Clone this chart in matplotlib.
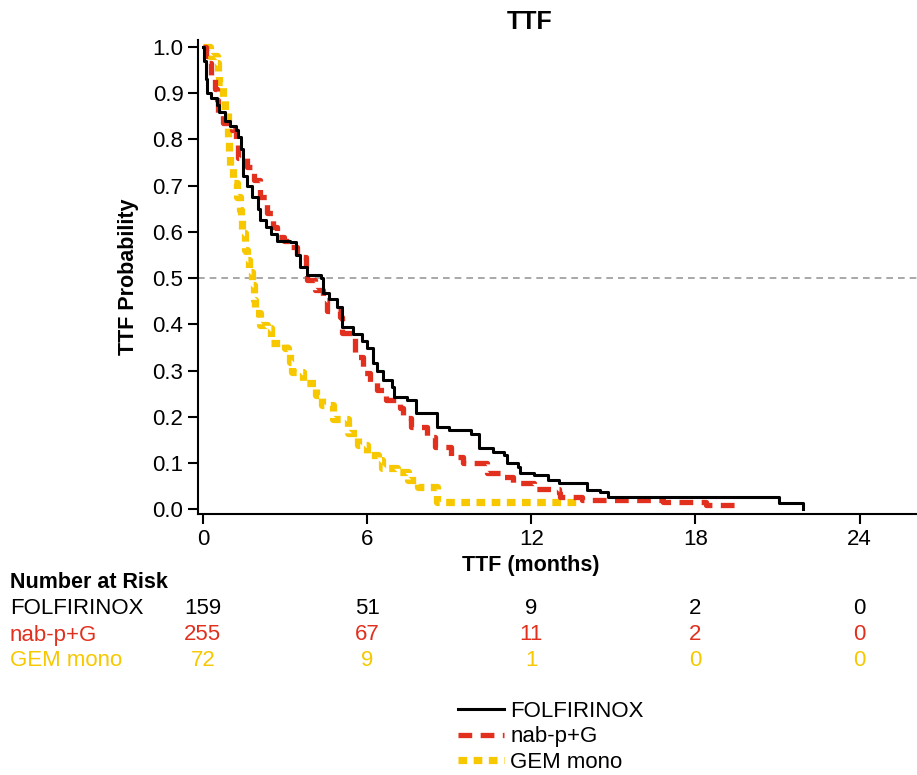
import matplotlib
matplotlib.use("Agg")
import matplotlib.pyplot as plt
import matplotlib.transforms as mtransforms

plt.rcParams['font.family'] = ['Liberation Sans', 'DejaVu Sans']

# Data
folfirinox_t = [0, 0.05, 0.1, 0.15, 0.3, 0.5, 0.6, 0.8, 1.0, 1.2, 1.3, 1.38, 1.45, 1.6, 1.8,
                2.0, 2.1, 2.3, 2.5, 2.7, 3.2, 3.4, 3.55, 3.8, 4.3, 4.4, 4.6, 4.9, 5.1, 5.5,
                5.8, 6.0, 6.2, 6.35, 6.6, 6.9, 7.0, 7.45, 7.8, 8.55, 9.0, 9.8, 10.1, 10.6, 11.0,
                11.1, 11.5, 11.6, 12.1, 12.6, 13.0, 14.05, 14.5, 14.8, 21.05, 21.95]
folfirinox_s = [1.0, 0.97, 0.93, 0.90, 0.89, 0.875, 0.86, 0.84, 0.83, 0.82, 0.805, 0.78, 0.72, 0.70, 0.675,
                0.65, 0.625, 0.61, 0.595, 0.58, 0.578, 0.55, 0.525, 0.506, 0.50, 0.467, 0.455, 0.437, 0.394, 0.38,
                0.365, 0.35, 0.316, 0.30, 0.28, 0.264, 0.242, 0.236, 0.208, 0.178, 0.171, 0.164, 0.132, 0.123, 0.117,
                0.10, 0.091, 0.078, 0.074, 0.063, 0.056, 0.041, 0.037, 0.026, 0.013, 0.0]

nabpg_t = [0, 0.1, 0.2, 0.3, 0.45, 0.5, 0.55, 0.75, 1.05, 1.2, 1.3, 1.6, 1.85, 2.1, 2.35,
           2.55, 2.7, 2.95, 3.2, 3.45, 3.75, 3.8, 4.1, 4.4, 4.55, 5.0, 5.1, 5.5, 5.55, 5.85,
           6.1, 6.35, 6.7, 7.2, 7.3, 7.6, 8.2, 8.5, 9.05, 9.5, 10.4, 11.0, 11.35, 12.1, 12.6,
           13.0, 13.05, 13.85, 16.8, 18.4, 19.6]
nabpg_s = [1.0, 0.98, 0.965, 0.93, 0.91, 0.885, 0.857, 0.835, 0.82, 0.79, 0.76, 0.74, 0.712, 0.675, 0.64,
           0.61, 0.59, 0.58, 0.567, 0.545, 0.517, 0.496, 0.474, 0.452, 0.43, 0.416, 0.381, 0.37, 0.33, 0.294,
           0.275, 0.258, 0.236, 0.22, 0.197, 0.178, 0.156, 0.134, 0.113, 0.10, 0.078, 0.069, 0.058, 0.045, 0.043,
           0.035, 0.026, 0.02, 0.015, 0.009, 0.009]

gem_t = [0, 0.25, 0.5, 0.55, 0.6, 0.75, 0.8, 0.9, 0.93, 0.96, 1.0, 1.1, 1.25, 1.35, 1.38,
         1.42, 1.5, 1.55, 1.62, 1.7, 1.8, 1.85, 1.9, 2.1, 2.35, 2.5, 3.0, 3.1, 3.2, 3.25,
         3.65, 4.15, 4.35, 4.75, 5.3, 5.65, 6.0, 6.4, 6.55, 7.1, 7.5, 7.85, 8.55, 13.8]
gem_s = [1.0, 0.98, 0.965, 0.946, 0.924, 0.89, 0.864, 0.842, 0.805, 0.773, 0.74, 0.705, 0.675, 0.647, 0.626,
         0.604, 0.597, 0.56, 0.539, 0.513, 0.485, 0.452, 0.424, 0.398, 0.392, 0.36, 0.35, 0.338, 0.318, 0.297,
         0.273, 0.247, 0.225, 0.195, 0.165, 0.14, 0.117, 0.106, 0.089, 0.08, 0.063, 0.048, 0.015, 0.015]

risk_times = [0, 6, 12, 18, 24]
risk_folfirinox = [159, 51, 9, 2, 0]
risk_nabpg = [255, 67, 11, 2, 0]
risk_gem = [72, 9, 1, 0, 0]

black = '#000000'
red = '#E1301E'
yellow = '#F7C800'
fs = 16

fig = plt.figure(figsize=(9.17, 7.75), dpi=100)
ax = fig.add_axes([198/917, 1 - 514/775, 1 - 198/917, (514 - 40)/775])

ax.step(folfirinox_t, folfirinox_s, where='post', color=black, lw=2.2, label='FOLFIRINOX', zorder=4)
ax.step(nabpg_t, nabpg_s, where='post', color=red, lw=3.8, dashes=(2.6, 1.6),
        dash_capstyle='butt', label='nab-p+G', zorder=3)
ax.step(gem_t, gem_s, where='post', color=yellow, lw=5.2, dashes=(1.2, 0.9),
        dash_capstyle='butt', label='GEM mono', zorder=2)

# median line
ax.axhline(0.5, color='#999999', lw=1.2, dashes=(4, 3), zorder=1)

ax.set_xlim(-0.18, 26.1)
ax.set_ylim(-0.01, 1.015)
ax.set_xticks(risk_times)
ax.set_yticks([i / 10 for i in range(11)])
ax.set_yticklabels([f'{i / 10:.1f}' for i in range(11)])
ax.tick_params(labelsize=fs, length=7, width=1.5, direction='out')
for side in ['top', 'right']:
    ax.spines[side].set_visible(False)
for side in ['left', 'bottom']:
    ax.spines[side].set_linewidth(1.5)

ax.set_ylabel('TTF Probability', fontsize=15.5, fontweight='bold', labelpad=10)
fig.text(531/917, 1 - 565/775, 'TTF (months)', fontsize=15.5, fontweight='bold', ha='center', va='center')
fig.text(530/917, 1 - 22/775, 'TTF', fontsize=18, fontweight='bold', ha='center', va='center')

# number at risk table
fig.text(10/917, 1 - 582/775, 'Number at Risk', fontsize=15.5, fontweight='bold', ha='left', va='center')
trans = mtransforms.blended_transform_factory(ax.transData, fig.transFigure)
rows = [('FOLFIRINOX', risk_folfirinox, black, 609),
        ('nab-p+G', risk_nabpg, red, 635),
        ('GEM mono', risk_gem, yellow, 661)]
for name, vals, col, ypx in rows:
    fig.text(10/917, 1 - ypx/775, name, fontsize=fs, color=col, ha='left', va='center')
    for t, v in zip(risk_times, vals):
        ax.text(t, 1 - ypx/775, str(v), transform=trans, fontsize=fs, color=col,
                ha='center', va='center', clip_on=False)

fig.legend(loc='upper left', bbox_to_anchor=(458/917, 1 - 701/775), frameon=False,
           fontsize=fs, handlelength=2.05, handletextpad=0.3, labelspacing=0.2,
           borderpad=0, borderaxespad=0)

fig.savefig('out.png', dpi=100)
